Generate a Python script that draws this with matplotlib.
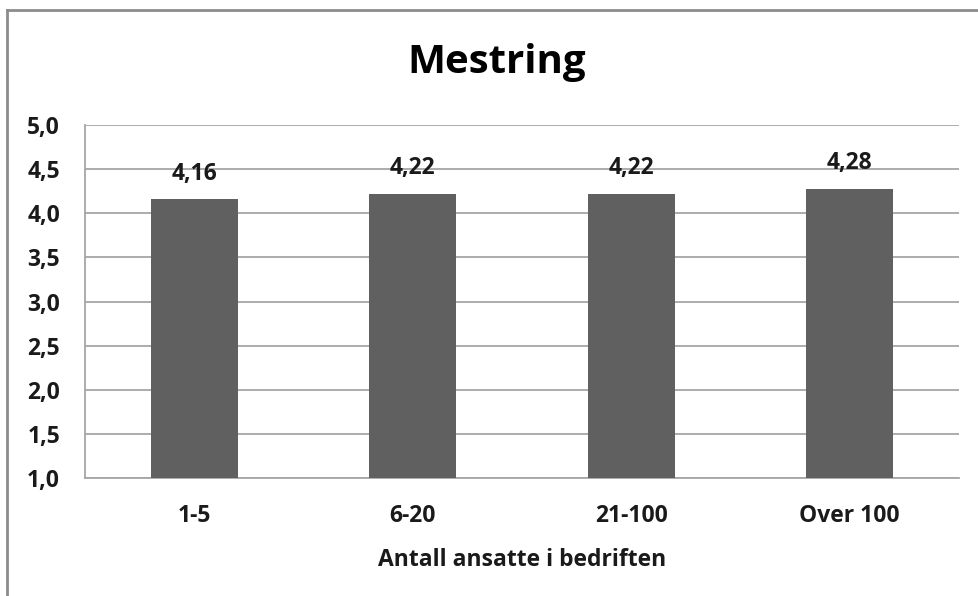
import matplotlib
matplotlib.use("Agg")
import matplotlib.pyplot as plt
from matplotlib.lines import Line2D

# antall ansatte / snittscore
kategorier = ["1-5", "6-20", "21-100", "Over 100"]
verdier = [4.16, 4.22, 4.22, 4.28]
y_ticks = [1.0, 1.5, 2.0, 2.5, 3.0, 3.5, 4.0, 4.5, 5.0]

plt.rcParams["font.family"] = ["Open Sans", "DejaVu Sans"]
plt.rcParams["font.weight"] = "bold"

fig = plt.figure(figsize=(9.79, 5.96), dpi=100)
ax = fig.add_axes([85/979, 1-478/596, 874/979, 353/596])

gra = "#a6a6a6"
tekst = "#1a1a1a"
fs = 16.5
x = range(len(kategorier))
ax.bar(x, [v - 1.0 for v in verdier], bottom=1.0, width=0.4, color="#606060", zorder=3)

for i, v in zip(x, verdier):
    ax.text(i, v + 0.29, f"{v:.2f}".replace(".", ","), ha="center", va="center",
            fontsize=fs, fontweight="bold", color=tekst)

ax.set_xlim(-0.5, len(kategorier) - 0.5)
ax.set_ylim(1.0, 5.0)
ax.set_yticks(y_ticks)
ax.set_yticklabels([f"{t:.1f}".replace(".", ",") for t in y_ticks])
ax.set_xticks(list(x))
ax.set_xticklabels(kategorier)
ax.tick_params(axis="both", length=0, labelsize=fs, colors=tekst)
ax.tick_params(axis="y", pad=18)
ax.tick_params(axis="x", pad=19)
for lbl in ax.get_xticklabels() + ax.get_yticklabels():
    lbl.set_fontweight("bold")

ax.yaxis.grid(True, color=gra, linewidth=1.3, zorder=0)
for s in ["top", "right"]:
    ax.spines[s].set_visible(False)
for s in ["left", "bottom"]:
    ax.spines[s].set_color(gra)
    ax.spines[s].set_linewidth(1.3)

ax.set_xlabel("Antall ansatte i bedriften", fontsize=fs, fontweight="bold",
              color=tekst, labelpad=14)
fig.text(497/979, 1-63/596, "Mestring", ha="center", va="center",
         fontsize=29, fontweight="bold", color="black")

# ramme (bare venstre og topp synlig)
fig.add_artist(Line2D([7/979, 7/979], [0, 1-10/596], color="#8c8c8c", linewidth=2))
fig.add_artist(Line2D([7/979, 1], [1-10/596, 1-10/596], color="#8c8c8c", linewidth=2))

fig.savefig("out.png", dpi=100)
